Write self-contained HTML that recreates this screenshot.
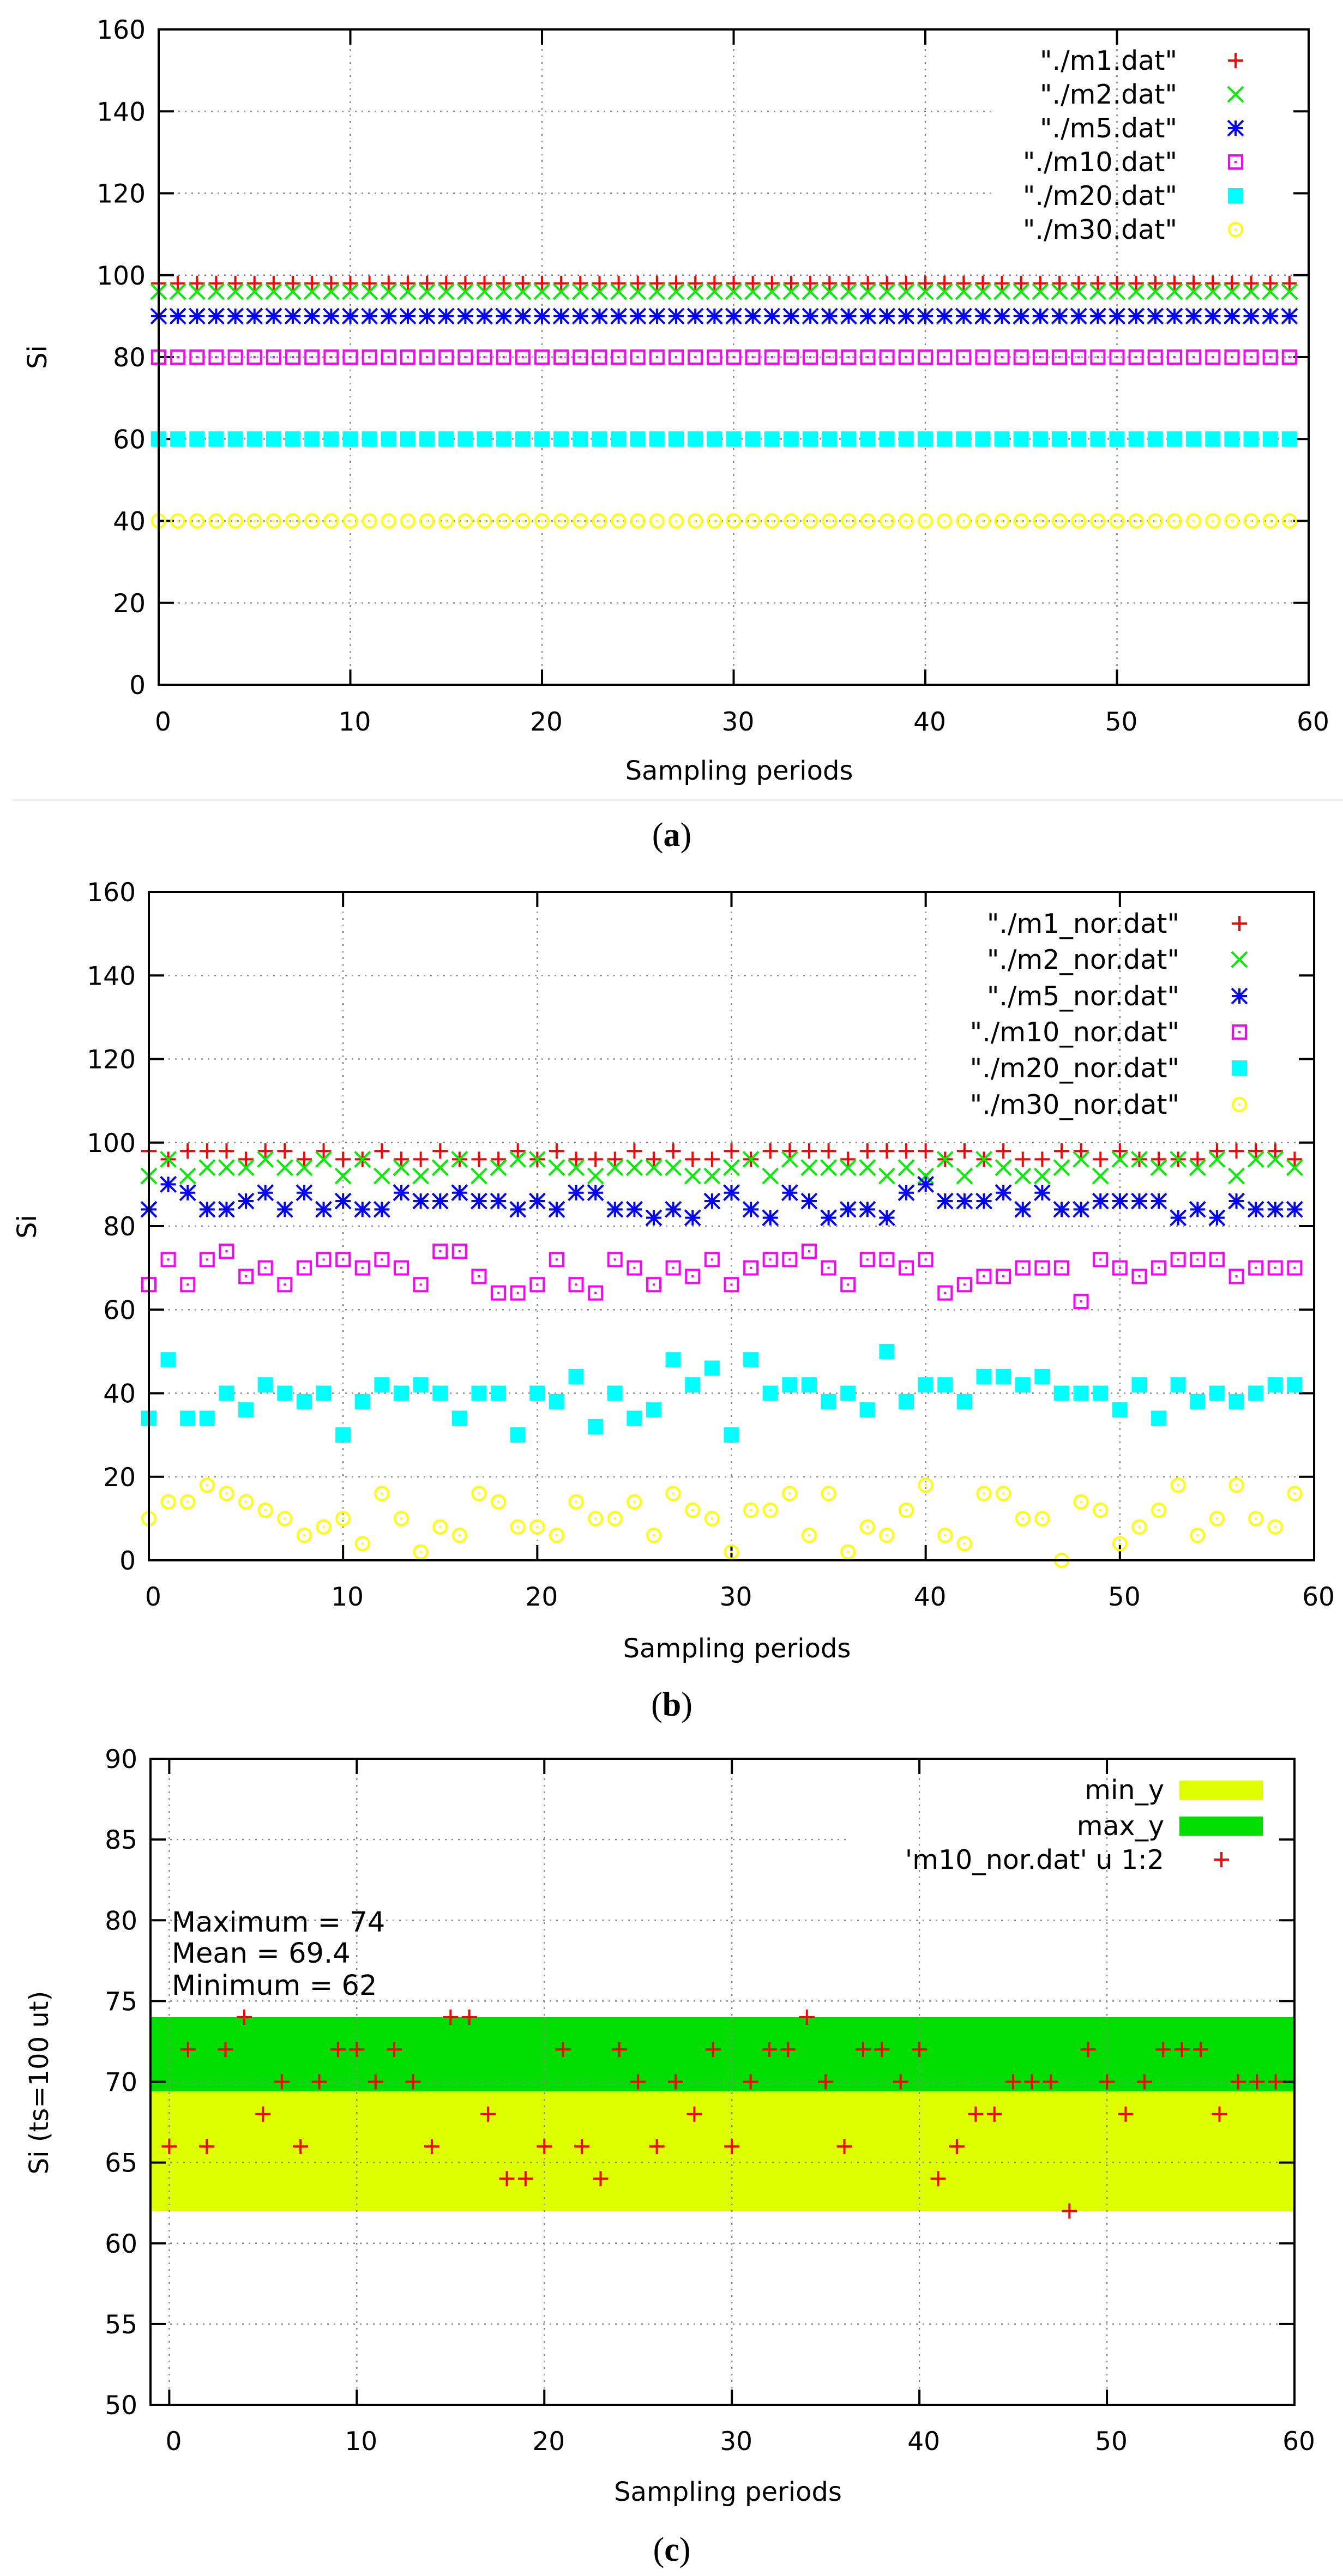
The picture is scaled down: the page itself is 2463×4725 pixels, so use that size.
<!DOCTYPE html>
<html><head><meta charset="utf-8">
<style>
html,body{margin:0;padding:0;background:#fff;}
svg{display:block;}
text{font-family:"DejaVu Sans","Liberation Sans",sans-serif;fill:#000;}
.cap{font-family:"Liberation Serif","DejaVu Serif",serif;}
</style></head>
<body>
<svg id="s" xmlns="http://www.w3.org/2000/svg" width="2463" height="4725" viewBox="0 0 2463 4725"></svg>
<script>
var out=[];
function P(s){out.push(s);}
function marker(t,x,y,c){
  var h=14,sw=4;
  if(t=='plus'){P('<path d="M'+(x-h)+' '+y+'h'+2*h+'M'+x+' '+(y-h)+'v'+2*h+'" stroke="'+c+'" stroke-width="'+sw+'" fill="none"/>');}
  else if(t=='x'){P('<path d="M'+(x-h)+' '+(y-h)+'L'+(x+h)+' '+(y+h)+'M'+(x-h)+' '+(y+h)+'L'+(x+h)+' '+(y-h)+'" stroke="'+c+'" stroke-width="'+sw+'" fill="none"/>');}
  else if(t=='star'){P('<path d="M'+(x-h)+' '+y+'h'+2*h+'M'+x+' '+(y-h)+'v'+2*h+'M'+(x-h)+' '+(y-h)+'L'+(x+h)+' '+(y+h)+'M'+(x-h)+' '+(y+h)+'L'+(x+h)+' '+(y-h)+'" stroke="'+c+'" stroke-width="'+sw+'" fill="none"/>');}
  else if(t=='sq'){P('<rect x="'+(x-12)+'" y="'+(y-12)+'" width="24" height="24" stroke="'+c+'" stroke-width="4" fill="none"/><rect x="'+(x-2)+'" y="'+(y-2)+'" width="4" height="4" fill="'+c+'"/>');}
  else if(t=='fsq'){P('<rect x="'+(x-14)+'" y="'+(y-14)+'" width="28" height="28" fill="'+c+'"/>');}
  else if(t=='circ'){P('<circle cx="'+x+'" cy="'+y+'" r="12" stroke="'+c+'" stroke-width="4" fill="none"/><rect x="'+(x-2)+'" y="'+(y-2)+'" width="4" height="4" fill="'+c+'"/>');}
}
function chart(o){
  var L=o.L,R=o.R,T=o.T,B=o.B;
  function X(v){return L+(v-o.xmin)/(o.xmax-o.xmin)*(R-L);}
  function Y(v){return B-(v-o.ymin)/(o.ymax-o.ymin)*(B-T);}
  if(o.bands){o.bands.forEach(function(b){P('<rect x="'+L+'" y="'+Y(b[1])+'" width="'+(R-L)+'" height="'+(Y(b[0])-Y(b[1]))+'" fill="'+b[2]+'"/>');});}
  for(var v=o.ymin+o.ystep;v<o.ymax-0.01;v+=o.ystep){
    var gx2=(o.gridStop&&v>o.gridStopBelow)?o.gridStop:R;
    P('<line x1="'+L+'" x2="'+gx2+'" y1="'+Y(v)+'" y2="'+Y(v)+'" stroke="#888" stroke-width="2.5" stroke-dasharray="3,9"/>');
  }
  for(var v=10;v<60;v+=10){
    P('<line x1="'+X(v)+'" x2="'+X(v)+'" y1="'+T+'" y2="'+B+'" stroke="#888" stroke-width="2.5" stroke-dasharray="3,9"/>');
  }
  if(o.xmin<0){P('<line x1="'+X(0)+'" x2="'+X(0)+'" y1="'+T+'" y2="'+B+'" stroke="#888" stroke-width="2.5" stroke-dasharray="3,9"/>');}
  var tk=28;
  for(var v=o.ymin;v<=o.ymax+0.01;v+=o.ystep){
    var y=Y(v);
    P('<path d="M'+L+' '+y+'h'+tk+'M'+R+' '+y+'h'+(-tk)+'" stroke="#000" stroke-width="4"/>');
    P('<text x="'+(L-24)+'" y="'+(y+17)+'" font-size="47" text-anchor="end">'+v+'</text>');
  }
  for(var v=0;v<=60;v+=10){
    var x=X(v);
    P('<path d="M'+x+' '+B+'v'+(-tk)+'M'+x+' '+T+'v'+tk+'" stroke="#000" stroke-width="4"/>');
    P('<text x="'+(x+8)+'" y="'+o.xlabY+'" font-size="47" text-anchor="middle">'+v+'</text>');
  }
  o.series.forEach(function(s){
    s.d.forEach(function(v,i){marker(s.m,X(i),Y(v),s.c);});
  });
  P('<rect x="'+L+'" y="'+T+'" width="'+(R-L)+'" height="'+(B-T)+'" fill="none" stroke="#000" stroke-width="4"/>');
  o.series.forEach(function(s,i){
    if(!s.name)return;
    var y=o.legY[i];
    P('<text x="'+o.legTX+'" y="'+(y+17)+'" font-size="49" text-anchor="end">'+s.name+'</text>');
    marker(s.m,o.legSX,y,s.c);
  });
  if(o.bandLeg){o.bandLeg.forEach(function(b){
    P('<text x="'+o.legTX+'" y="'+(b[1]+17)+'" font-size="49" text-anchor="end">'+b[0]+'</text>');
    P('<rect x="2163" y="'+(b[1]-17)+'" width="153" height="35" fill="'+b[2]+'"/>');
  });}
  P('<text x="'+((L+R)/2+10)+'" y="'+o.xtY+'" font-size="48" text-anchor="middle">Sampling periods</text>');
  P('<text transform="translate('+o.ytX+','+o.ytY+') rotate(-90)" font-size="48" text-anchor="middle">'+o.yt+'</text>');
}
function rep(v){var a=[];for(var i=0;i<60;i++)a.push(v);return a;}
var Q='&quot;';
chart({L:291,R:2400,T:54,B:1256,xmin:0,xmax:60,ymin:0,ymax:160,ystep:20,gridStop:1821,gridStopBelow:110,
  xlabY:1340,xtY:1430,ytX:85,ytY:655,yt:'Si',legTX:2159,legSX:2266,legY:[111,173,235,297,359,421],
  series:[{m:'plus',c:'#ff0000',d:rep(98),name:Q+'./m1.dat'+Q},{m:'x',c:'#00ee00',d:rep(96),name:Q+'./m2.dat'+Q},
  {m:'star',c:'#0000ff',d:rep(90),name:Q+'./m5.dat'+Q},{m:'sq',c:'#ff00ff',d:rep(80),name:Q+'./m10.dat'+Q},
  {m:'fsq',c:'#00ffff',d:rep(60),name:Q+'./m20.dat'+Q},{m:'circ',c:'#ffff00',d:rep(40),name:Q+'./m30.dat'+Q}]});
P('<rect x="23" y="1465" width="2440" height="4" fill="#eeeeee"/>');
P('<text class="cap" x="1232" y="1552" font-size="62" text-anchor="middle">(<tspan font-weight="bold">a</tspan>)</text>');
var m1=[98,96,98,98,98,96,98,98,96,98,96,96,98,96,96,98,96,96,96,98,96,98,96,96,96,98,96,98,96,96,98,96,98,98,98,98,96,98,98,98,98,96,98,96,98,96,96,98,98,96,98,96,96,96,96,98,98,98,98,96];
var m2=[92,96,92,94,94,94,96,94,94,96,92,96,92,94,92,94,96,92,94,96,96,94,94,92,94,94,94,94,92,92,94,96,92,96,94,94,94,94,92,94,92,96,92,96,94,92,92,94,96,92,96,96,94,96,94,96,92,96,96,94];
var m5=[84,90,88,84,84,86,88,84,88,84,86,84,84,88,86,86,88,86,86,84,86,84,88,88,84,84,82,84,82,86,88,84,82,88,86,82,84,84,82,88,90,86,86,86,88,84,88,84,84,86,86,86,86,82,84,82,86,84,84,84];
var m10=[66,72,66,72,74,68,70,66,70,72,72,70,72,70,66,74,74,68,64,64,66,72,66,64,72,70,66,70,68,72,66,70,72,72,74,70,66,72,72,70,72,64,66,68,68,70,70,70,62,72,70,68,70,72,72,72,68,70,70,70];
var m20=[34,48,34,34,40,36,42,40,38,40,30,38,42,40,42,40,34,40,40,30,40,38,44,32,40,34,36,48,42,46,30,48,40,42,42,38,40,36,50,38,42,42,38,44,44,42,44,40,40,40,36,42,34,42,38,40,38,40,42,42];
var m30=[10,14,14,18,16,14,12,10,6,8,10,4,16,10,2,8,6,16,14,8,8,6,14,10,10,14,6,16,12,10,2,12,12,16,6,16,2,8,6,12,18,6,4,16,16,10,10,0,14,12,4,8,12,18,6,10,18,10,8,16];
chart({L:273,R:2410,T:1636,B:2862,xmin:0,xmax:60,ymin:0,ymax:160,ystep:20,gridStop:1684,gridStopBelow:110,
  xlabY:2945,xtY:3040,ytX:66,ytY:2250,yt:'Si',legTX:2163,legSX:2273,legY:[1694,1760,1827,1893,1959,2026],
  series:[{m:'plus',c:'#ff0000',d:m1,name:Q+'./m1_nor.dat'+Q},{m:'x',c:'#00ee00',d:m2,name:Q+'./m2_nor.dat'+Q},
  {m:'star',c:'#0000ff',d:m5,name:Q+'./m5_nor.dat'+Q},{m:'sq',c:'#ff00ff',d:m10,name:Q+'./m10_nor.dat'+Q},
  {m:'fsq',c:'#00ffff',d:m20,name:Q+'./m20_nor.dat'+Q},{m:'circ',c:'#ffff00',d:m30,name:Q+'./m30_nor.dat'+Q}]});
P('<text class="cap" x="1232" y="3147" font-size="62" text-anchor="middle">(<tspan font-weight="bold">b</tspan>)</text>');
chart({L:276,R:2374,T:3226,B:4411,xmin:-1,xmax:60,ymin:50,ymax:90,ystep:5,gridStop:1559,gridStopBelow:82,
  bands:[[62,69.4,'#ddff00'],[69.4,74,'#00dd00']],
  bandLeg:[['min_y',3283,'#ddff00'],['max_y',3349,'#00dd00']],
  xlabY:4494,xtY:4587,ytX:88,ytY:3820,yt:'Si (ts=100 ut)',legTX:2135,legSX:2240,legY:[0,0,3411],
  series:[{m:'plus',c:'#ff0000',d:[],name:null},{m:'plus',c:'#ff0000',d:[],name:null},{m:'plus',c:'#ff0000',d:m10,name:"'m10_nor.dat' u 1:2"}]});
P('<text x="315" y="3543" font-size="51">Maximum = 74</text>');
P('<text x="315" y="3600" font-size="51">Mean = 69.4</text>');
P('<text x="315" y="3659" font-size="51">Minimum = 62</text>');
P('<text class="cap" x="1232" y="4697" font-size="62" text-anchor="middle">(<tspan font-weight="bold">c</tspan>)</text>');
document.getElementById('s').innerHTML=out.join('');
</script>
</body></html>
